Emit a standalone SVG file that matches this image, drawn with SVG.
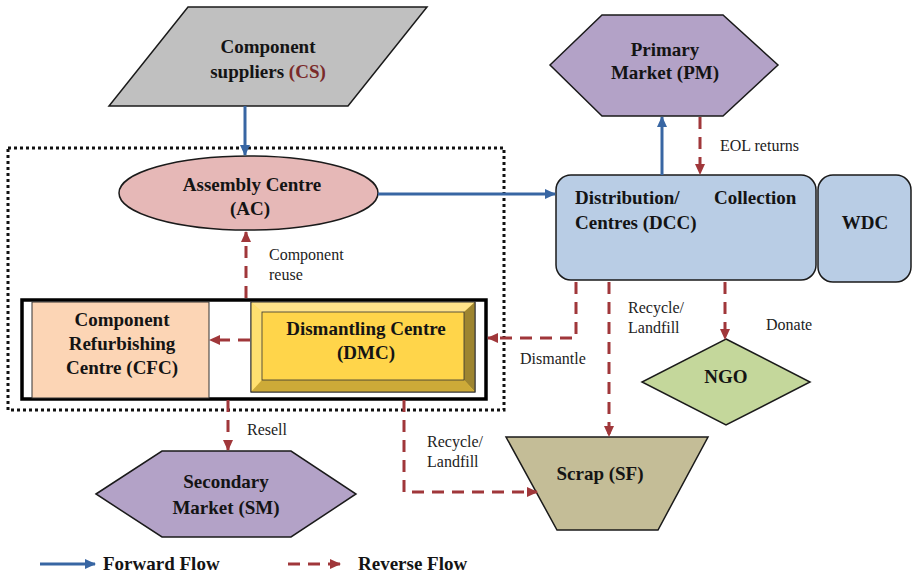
<svg xmlns="http://www.w3.org/2000/svg" width="912" height="575" viewBox="0 0 912 575">
  <style>
    text { font-family: "Liberation Serif", "Tinos", "Times New Roman", "DejaVu Serif", serif; }
    .lbl { font-weight: bold; font-size: 19px; fill: #141414; text-anchor: middle; }
    .lbl-l { font-weight: bold; font-size: 19px; fill: #141414; }
    .note { font-size: 16px; fill: #222; }
    .fwd { stroke: #3866A3; stroke-width: 3; fill: none; }
    .rev { stroke: #A0373A; stroke-width: 3; fill: none; stroke-dasharray: 12 8; }
    .edge { stroke: #1a1a1a; stroke-width: 1.5; }
  </style>
  <defs>
    <marker id="ahBlue" markerUnits="userSpaceOnUse" markerWidth="12" markerHeight="12" refX="10" refY="6" orient="auto">
      <path d="M0,1 L11,6 L0,11 Z" fill="#3866A3"/>
    </marker>
    <marker id="ahRed" markerUnits="userSpaceOnUse" markerWidth="12" markerHeight="12" refX="10" refY="6" orient="auto">
      <path d="M0,1 L11,6 L0,11 Z" fill="#A0373A"/>
    </marker>
  </defs>

  <rect width="912" height="575" fill="#ffffff"/>

  <!-- dotted boundary round the assembly / dismantling cluster -->
  <rect x="8" y="148" width="496" height="262" fill="none" stroke="#111" stroke-width="3" stroke-dasharray="3 3"/>

  <g id="cs">
    <polygon points="188,7 427,7 348,106 109,106" fill="#C0C0C0" class="edge"/>
    <text class="lbl" x="268" y="53" font-family="Liberation Serif, serif">Component</text>
    <text class="lbl" x="268" y="78" font-family="Liberation Serif, serif">suppliers <tspan fill="#7A2A2A">(CS)</tspan></text>
  </g>

  <g id="ac">
    <ellipse cx="248.5" cy="193" rx="129.5" ry="37" fill="#E6B8B7" class="edge"/>
    <text class="lbl" x="252" y="191">Assembly Centre</text>
    <text class="lbl" x="250" y="215">(AC)</text>
  </g>

  <g id="frame">
    <rect x="22" y="300" width="464" height="99" fill="#ffffff" stroke="#000" stroke-width="3.5"/>
  </g>

  <g id="cfc">
    <rect x="32" y="302" width="177" height="96" fill="#FCD5B5" stroke="#333" stroke-width="1"/>
    <text class="lbl" x="122" y="326">Component</text>
    <text class="lbl" x="122" y="350">Refurbishing</text>
    <text class="lbl" x="122" y="374">Centre (CFC)</text>
  </g>

  <g id="dmc">
    <rect x="251" y="302" width="224" height="90" fill="#FFD54A" stroke="#333" stroke-width="1"/>
    <polygon points="251,302 475,302 464,312 262,312" fill="#FFE38A"/>
    <polygon points="251,302 262,312 262,380 251,392" fill="#FFE070"/>
    <polygon points="475,302 475,392 464,380 464,312" fill="#9E8530"/>
    <polygon points="251,392 262,380 464,380 475,392" fill="#CDAA38"/>
    <rect x="251" y="302" width="224" height="90" fill="none" stroke="#333" stroke-width="1"/>
    <rect x="262" y="312" width="202" height="68" fill="none" stroke="#333" stroke-width="0.8"/>
    <text class="lbl" x="366" y="335">Dismantling Centre</text>
    <text class="lbl" x="366" y="359">(DMC)</text>
  </g>

  <g id="pm">
    <polygon points="550,65 602,15 723,15 778,65 723,116 602,116" fill="#B3A2C7" class="edge"/>
    <text class="lbl" x="665" y="56">Primary</text>
    <text class="lbl" x="665" y="79">Market (PM)</text>
  </g>

  <g id="dcc">
    <rect x="556" y="175" width="260" height="105" rx="15" ry="15" fill="#B9CDE5" class="edge"/>
    <text class="lbl-l" x="575" y="204">Distribution/</text>
    <text class="lbl-l" x="714" y="204">Collection</text>
    <text class="lbl-l" x="575" y="229">Centres (DCC)</text>
  </g>

  <g id="wdc">
    <rect x="818" y="175" width="93" height="107" rx="15" ry="15" fill="#B9CDE5" class="edge"/>
    <text class="lbl" x="865" y="229">WDC</text>
  </g>

  <g id="ngo">
    <polygon points="726,339 810,382 726,425 642,382" fill="#C4D79B" class="edge"/>
    <text class="lbl" x="726" y="383">NGO</text>
  </g>

  <g id="sf">
    <polygon points="506,437 708,437 658,530 557,530" fill="#C4BD97" class="edge"/>
    <text class="lbl" x="600" y="480">Scrap (SF)</text>
  </g>

  <g id="sm">
    <polygon points="96,494 162,451 291,451 356,494 291,537 162,537" fill="#B3A2C7" class="edge"/>
    <text class="lbl" x="226" y="488">Secondary</text>
    <text class="lbl" x="226" y="514">Market (SM)</text>
  </g>

  <g id="connectors">
    <!-- forward flow -->
    <line class="fwd" x1="245" y1="106" x2="245" y2="155" marker-end="url(#ahBlue)"/>
    <line class="fwd" x1="378" y1="194" x2="555" y2="194" marker-end="url(#ahBlue)"/>
    <line class="fwd" x1="662" y1="175" x2="662" y2="117" marker-end="url(#ahBlue)"/>
    <!-- reverse flow -->
    <line class="rev" x1="700" y1="117" x2="700" y2="174" marker-end="url(#ahRed)"/>
    <line class="rev" x1="246" y1="298" x2="246" y2="232" marker-end="url(#ahRed)"/>
    <line class="rev" x1="250" y1="340" x2="210" y2="340" marker-end="url(#ahRed)"/>
    <polyline class="rev" points="576,282 576,338 488,338" marker-end="url(#ahRed)"/>
    <line class="rev" x1="609" y1="282" x2="609" y2="436" marker-end="url(#ahRed)"/>
    <line class="rev" x1="725" y1="282" x2="725" y2="339" marker-end="url(#ahRed)"/>
    <line class="rev" x1="228" y1="400" x2="228" y2="450" marker-end="url(#ahRed)"/>
    <polyline class="rev" points="404,400 404,492 537,492" marker-end="url(#ahRed)"/>
  </g>

  <g id="labels">
    <text class="note" x="720" y="151">EOL returns</text>
    <text class="note" x="269" y="260">Component</text>
    <text class="note" x="269" y="280">reuse</text>
    <text class="note" x="520" y="364">Dismantle</text>
    <text class="note" x="628" y="313">Recycle/</text>
    <text class="note" x="628" y="333">Landfill</text>
    <text class="note" x="766" y="330">Donate</text>
    <text class="note" x="247" y="435">Resell</text>
    <text class="note" x="427" y="447">Recycle/</text>
    <text class="note" x="427" y="467">Landfill</text>
  </g>

  <g id="legend">
    <line class="fwd" x1="40" y1="564" x2="95" y2="564" marker-end="url(#ahBlue)"/>
    <text class="lbl-l" x="103" y="570" font-size="20">Forward Flow</text>
    <line class="rev" x1="288" y1="564" x2="340" y2="564" stroke-dasharray="13 9" marker-end="url(#ahRed)"/>
    <text class="lbl-l" x="358" y="570" font-size="20">Reverse Flow</text>
  </g>
</svg>
